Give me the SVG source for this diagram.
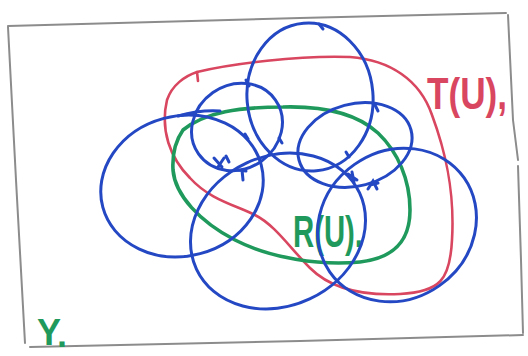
<svg xmlns="http://www.w3.org/2000/svg" width="528" height="356" viewBox="0 0 528 356">
  <style>
    .frame{fill:none;stroke:#8c8c8c;stroke-width:2;stroke-linecap:round;stroke-linejoin:round}
    .blue{fill:none;stroke:#2448c4;stroke-width:3;stroke-linecap:round;stroke-linejoin:round}
    .red{fill:none;stroke:#d9465f;stroke-width:2.6;stroke-linecap:round;stroke-linejoin:round}
    .green{fill:none;stroke:#1f9a5c;stroke-width:3.6;stroke-linecap:round;stroke-linejoin:round}
    .tick{fill:none;stroke:#2448c4;stroke-width:3;stroke-linecap:round}
    .lbl{font-family:"Liberation Sans","DejaVu Sans",sans-serif;font-size:44px;font-weight:bold}
  </style>
  <rect width="528" height="356" fill="#ffffff"/>
  <g id="frame">
    <path class="frame" d="M8,26 L300,18 L506,13"/>
    <path class="frame" d="M508,15 L513,120 L518,160"/>
    <path class="frame" d="M518,166 L521,260 L523,333"/>
    <path class="frame" d="M523,335 L300,341 L30,347"/>
    <path class="frame" d="M8,27 L16,180 L25,343"/>
  </g>
  <g id="T">
    <path class="red" d="M197,72 C230,64 300,55 350,57 C390,60 420,80 432,115 C445,150 455,190 452,240 C450,280 440,292 400,294 C360,296 330,288 310,268 C290,248 275,225 255,215 C235,205 210,200 190,178 C170,158 160,130 167,100 C172,85 185,76 197,72 Z"/>
    <path class="red" d="M197,72 L198,81"/>
    <text class="lbl" x="427" y="109" fill="#d9465f" textLength="80" lengthAdjust="spacingAndGlyphs">T(U),</text>
  </g>
  <g id="R">
    <path class="green" d="M183,130 C205,112 240,107 283,107 C320,106 355,112 378,133 C398,152 410,180 410,210 C410,240 395,258 360,262 C320,266 270,258 235,240 C200,222 175,195 173,170 C172,152 176,140 183,130 Z"/>
    <text class="lbl" x="293" y="247" fill="#1f9a5c" textLength="70" lengthAdjust="spacingAndGlyphs">R(U).</text>
  </g>
  <g id="Y">
    <text x="37" y="345" fill="#1f9a5c" font-family="Liberation Sans, DejaVu Sans, sans-serif" font-size="36" font-weight="bold">Y<tspan dy="2">.</tspan></text>
  </g>
  <g id="U1"><ellipse class="blue" cx="182" cy="186" rx="82" ry="70" transform="rotate(-15 182 186)"/><path class="blue" stroke-width="1.6" d="M178,116 C192,112 206,110 220,111"/></g>
  <g id="U2"><ellipse class="blue" cx="237" cy="127" rx="47" ry="42" transform="rotate(-35 237 127)"/></g>
  <g id="U3"><ellipse class="blue" cx="310" cy="97" rx="63" ry="74" transform="rotate(-5 310 97)"/></g>
  <g id="U4"><ellipse class="blue" cx="278" cy="231" rx="90" ry="75" transform="rotate(-25 278 231)"/></g>
  <g id="U5"><ellipse class="blue" cx="355" cy="145" rx="58" ry="41" transform="rotate(-15 355 145)"/></g>
  <g id="U6"><ellipse class="blue" cx="397" cy="225" rx="82" ry="74" transform="rotate(-35 397 225)"/></g>
  <g id="marks">
    <path class="tick" d="M214,158 L222,167 M218,167 L224,158 M226,156 L229,162"/>
    <path class="tick" d="M238,170 L246,171 M242,170 L243,180"/>
    <path class="tick" d="M245,134 L248,139"/>
    <path class="tick" d="M279,138 L282,143"/>
    <path class="tick" d="M246,80 L249,86"/>
    <path class="tick" d="M319,24 L323,29"/>
    <path class="tick" d="M346,152 L349,157"/>
    <path class="tick" d="M348,174 L357,180 M352,172 L354,182"/>
    <path class="tick" d="M368,189 L373,181 L377,189 M370,185 L378,183"/>
    <path class="tick" d="M375,105 L378,111"/>
  </g>
</svg>
